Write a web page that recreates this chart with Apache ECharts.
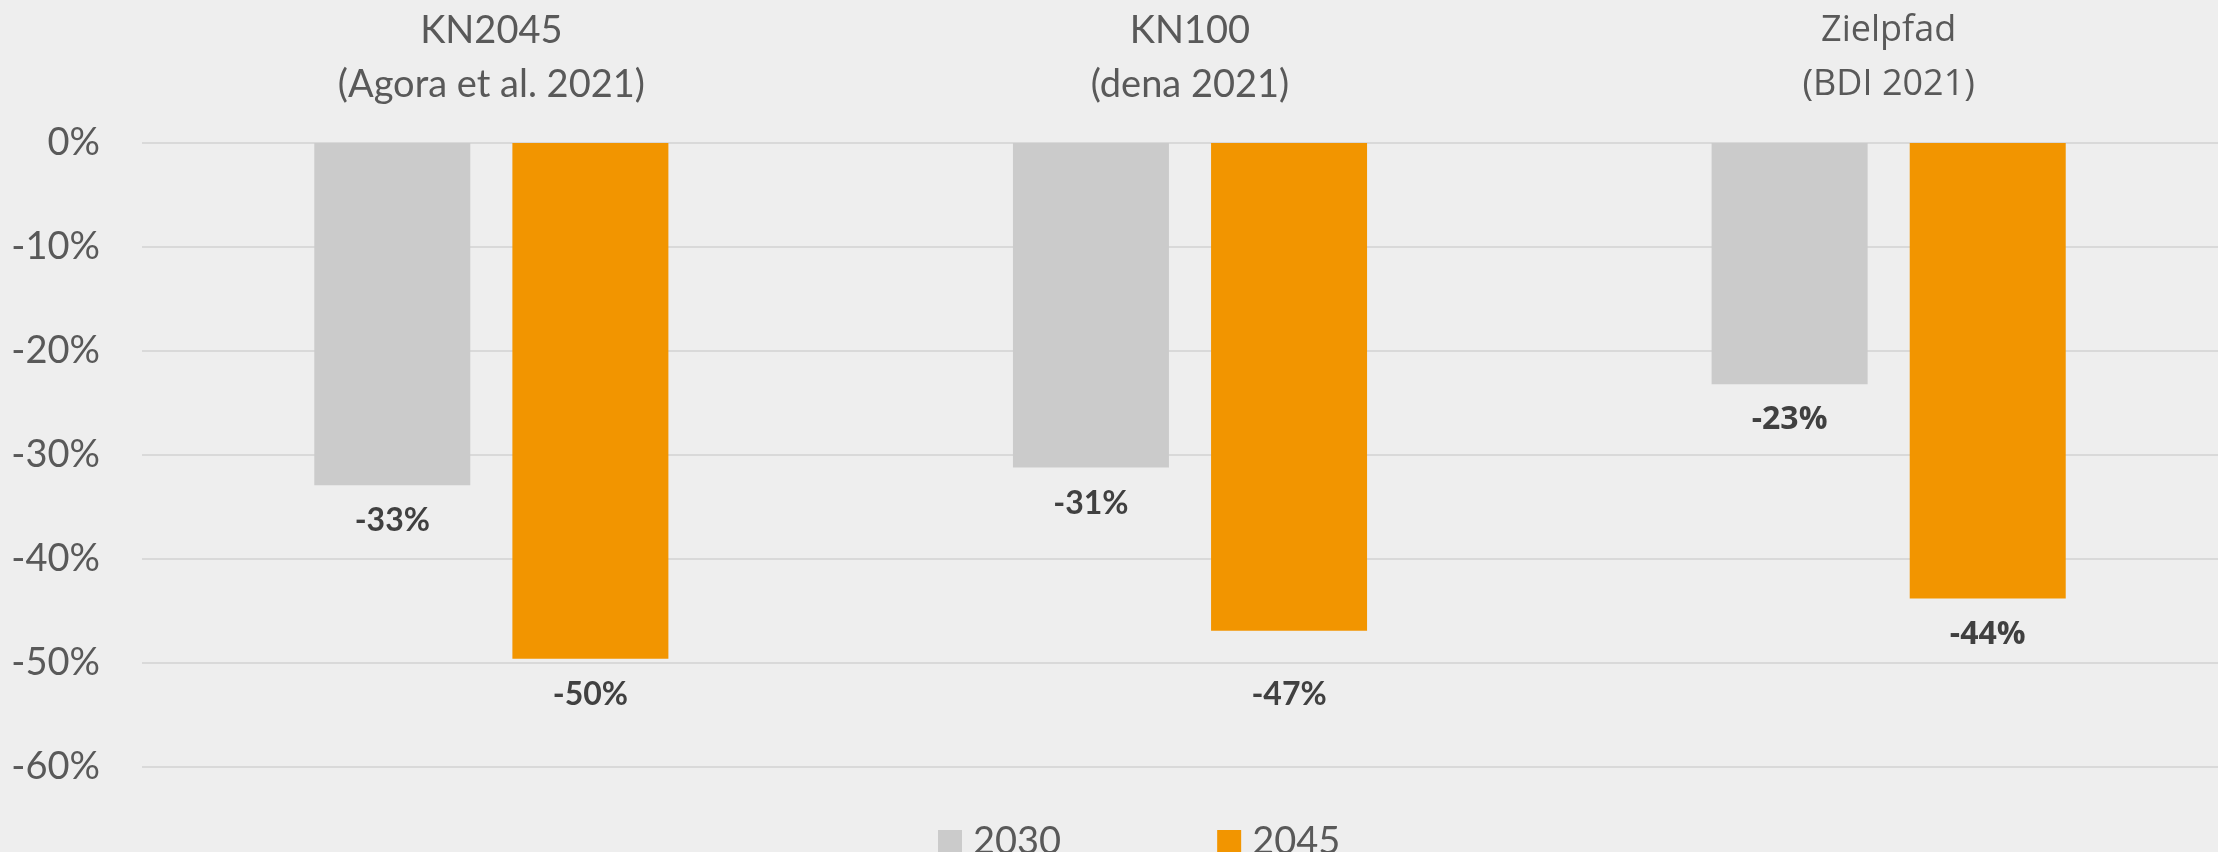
<!DOCTYPE html>
<html lang="de">
<head>
<meta charset="UTF-8">
<title>Reduktion</title>
<script src="https://cdn.jsdelivr.net/npm/echarts@6/dist/echarts.min.js"></script>
<style>
  html, body { margin: 0; padding: 0; background: #eeeeee; }
  #main { width: 2218px; height: 852px; }
</style>
</head>
<body>
<div id="main"></div>
<script>
// Daten
var categories = ['KN2045\n(Agora et al. 2021)', 'KN100\n(dena 2021)', 'Zielpfad\n(BDI 2021)'];
var seriesNames = ['2030', '2045'];
var values2030 = [-32.9, -31.2, -23.2];
var values2045 = [-49.6, -46.9, -43.8];
var yTicks = [0, -10, -20, -30, -40, -50, -60];

// Stil: Schrift je Kategorie, Zusatzabstand der Beschriftung
var catFonts = ['Lato', 'Lato', '"Open Sans"'];
var shift2030 = [0, 0, 0];
var shift2045 = [0, 28, 0];

var textColor = '#595959';

function barData(values, shifts) {
    return values.map(function (v, i) {
        return {
            value: v,
            label: { fontFamily: catFonts[i], distance: 20 + shifts[i] }
        };
    });
}

var barLabel = {
    show: true,
    position: 'outside',
    distance: 20,
    fontFamily: 'Lato',
    fontWeight: 'bold',
    fontSize: 32,
    color: '#404040',
    formatter: function (p) { return Math.round(p.value) + '%'; }
};

var chart = echarts.init(document.getElementById('main'));
chart.setOption({
    backgroundColor: '#eeeeee',
    animation: false,
    grid: { left: 142, width: 2096, top: 143, bottom: 85, outerBoundsMode: 'none', containLabel: false },
    legend: {
        data: seriesNames,
        left: 933,
        top: 818,
        icon: 'rect',
        itemWidth: 24,
        itemHeight: 24,
        itemGap: 156,
        textStyle: { fontFamily: 'Lato', fontSize: 38, color: textColor, padding: [0, 0, 0, 6] }
    },
    xAxis: {
        type: 'category',
        position: 'top',
        data: categories,
        axisLine: { show: false },
        axisTick: { show: false },
        axisLabel: {
            margin: 31,
            interval: 0,
            formatter: function (val, idx) {
                var key = idx === 2 ? 'b' : 'a';
                return val.split('\n').map(function (s) {
                    return '{' + key + '|' + s + '}';
                }).join('\n');
            },
            rich: {
                a: { fontFamily: 'Lato', fontSize: 38, lineHeight: 54, color: textColor },
                b: { fontFamily: '"Open Sans"', fontSize: 36, lineHeight: 54, color: textColor }
            }
        }
    },
    yAxis: {
        type: 'value',
        min: yTicks[yTicks.length - 1],
        max: yTicks[0],
        interval: 10,
        axisLine: { show: false },
        axisTick: { show: false },
        axisLabel: {
            margin: 42,
            fontFamily: 'Lato',
            fontSize: 38,
            color: textColor,
            formatter: function (v) { return Math.round(v) + '%'; }
        },
        splitLine: { lineStyle: { color: '#d9d9d9', width: 2 } }
    },
    series: [{
        name: seriesNames[0],
        type: 'bar',
        barWidth: 156,
        barGap: '27%',
        itemStyle: { color: '#cbcbcb' },
        label: barLabel,
        data: barData(values2030, shift2030)
    }, {
        name: seriesNames[1],
        type: 'bar',
        barWidth: 156,
        barGap: '27%',
        itemStyle: { color: '#f29500' },
        label: barLabel,
        data: barData(values2045, shift2045)
    }]
});
</script>
</body>
</html>
